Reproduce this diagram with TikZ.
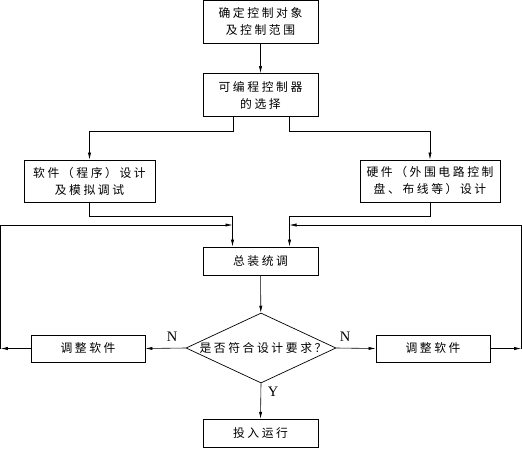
\documentclass[tikz,border=0pt]{standalone}
\usepackage{fontspec}
\setmainfont{Liberation Serif}
\newfontfamily\cjk[LetterSpace=22]{Noto Sans CJK SC}
\usetikzlibrary{shapes.geometric,arrows.meta}
\begin{document}
\begin{tikzpicture}[x=1pt,y=-1pt,
  box/.style={draw,line width=0.8pt,inner sep=0pt,align=center,font=\cjk\fontsize{11.8}{17}\selectfont},
  dia/.style={draw,line width=0.7pt,shape=diamond,inner sep=0pt,minimum width=150pt,minimum height=70pt},
  txt/.style={inner sep=0pt,font=\cjk\fontsize{11.8}{17}\selectfont},
  lab/.style={inner sep=0pt,font=\fontsize{14.5}{16}\selectfont},
  arr/.style={line width=0.6pt,-{Latex[length=7pt,width=3.2pt]}},
  ln/.style={line width=0.6pt}]
\useasboundingbox (0,0) rectangle (522,448);
\node[box,minimum width=115pt,minimum height=42.5pt] (b1) at (260.5,21.8) {确定控制对象\\及控制范围};
\node[box,minimum width=115pt,minimum height=43pt] (b2) at (260.5,95) {可编程控制器\\的选择};
\node[box,minimum width=131pt,minimum height=42pt] (b3) at (89.5,181) {软件（程序）设计\\及模拟调试};
\node[box,minimum width=140pt,minimum height=42pt] (b4) at (430,181) {硬件（外围电路控制\\盘、布线等）设计};
\node[box,minimum width=115pt,minimum height=28pt] (b5) at (260.5,261) {总装统调};
\node[dia] (d) at (261,348) {};
\node[txt] (dt) at (263,348.5) {是否符合设计要求？};
\node[box,minimum width=114pt,minimum height=27pt] (L) at (88,348.5) {调整软件};
\node[box,minimum width=114pt,minimum height=27pt] (R) at (433,348.5) {调整软件};
\node[box,minimum width=115pt,minimum height=28.5pt] (b6) at (260.5,433.5) {投入运行};
\coordinate (jl) at (232.5,225);
\coordinate (jr) at (289.5,225);
\coordinate (fl) at (0.8,348.5);
\coordinate (fr) at (521.2,348.5);
\draw[arr] (b1) -- (b2);
\draw[arr] ([xshift=-27.5pt]b2.south) -- ++(0,14.5) -| (b3.north);
\draw[arr] ([xshift=29pt]b2.south) -- ++(0,14.5) -| (b4.north);
\draw[arr] (b3.south) -- ++(0,14) -| ([xshift=-28pt]b5.north);
\draw[arr] (b4.south) -- ++(0,14) -| ([xshift=29pt]b5.north);
\draw[arr] (b5) -- (d);
\draw[arr] (d.west) -- (L.east);
\draw[arr] (d.east) -- (R.west);
\draw[arr] (d.south) -- (b6.north);
\draw[arr] (L.west) -- (fl);
\draw[arr] (fl) |- (jl);
\draw[arr] (R.east) -- (fr);
\draw[arr] (fr) |- (jr);
\node[lab] (n1) at (172,337) {N};
\node[lab] (n2) at (345,337) {N};
\node[lab] (y1) at (273,392) {Y};
\end{tikzpicture}
\end{document}
